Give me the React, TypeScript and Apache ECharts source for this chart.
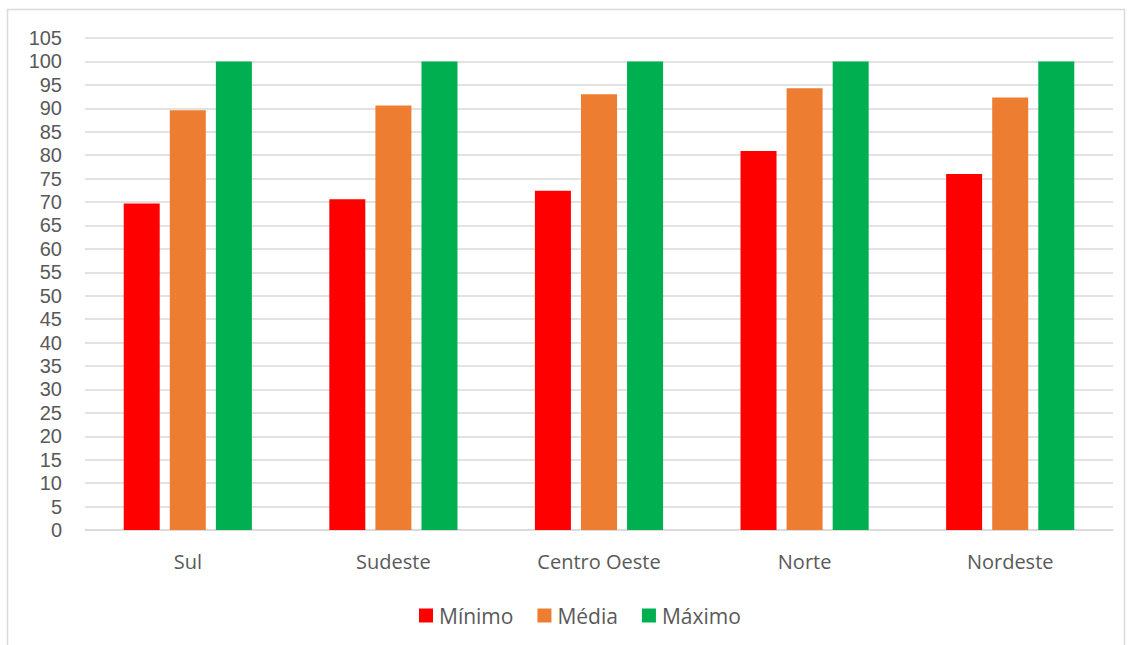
import React, { useEffect, useRef } from "react";
import * as echarts from "echarts";

const categories = ["Sul", "Sudeste", "Centro Oeste", "Norte", "Nordeste"];
const minimo = [69.7, 70.6, 72.4, 80.9, 76.0];
const media = [89.6, 90.6, 93.0, 94.3, 92.3];
const maximo = [100, 100, 100, 100, 100];
const seriesNames = ["Mínimo", "Média", "Máximo"];
const colors = ["#FF0000", "#ED7D31", "#00B050"];

export default function App() {
  const ref = useRef<HTMLDivElement>(null);
  useEffect(() => {
    if (!ref.current) return;
    const chart = echarts.init(ref.current, undefined, { renderer: "svg" });
    const font = "'Open Sans', 'Liberation Sans', sans-serif";
    const numFont = "'Liberation Sans', Arial, sans-serif";
    const data = [minimo, media, maximo];
    chart.setOption({
      animation: false,
      backgroundColor: "#ffffff",
      textStyle: { fontFamily: font },
      graphic: [
        {
          type: "rect",
          shape: { x: 7.5, y: 9.5, width: 1117, height: 645 },
          style: { fill: "none", stroke: "#d9d9d9", lineWidth: 1.5 },
          silent: true,
        },
      ],
      grid: { left: 85, right: 20, top: 38, bottom: 115, containLabel: false },
      legend: {
        bottom: 14,
        left: 414,
        itemWidth: 14,
        itemHeight: 14,
        itemGap: 24,
        icon: "rect",
        data: seriesNames,
        textStyle: { fontSize: 21, color: "#595959", fontFamily: font, padding: [0, 0, 0, 1] },
      },
      xAxis: {
        type: "category",
        data: categories,
        axisLine: { show: true, lineStyle: { color: "#d9d9d9", width: 1.5 } },
        axisTick: { show: false },
        axisLabel: { fontSize: 20, color: "#595959", margin: 21, fontFamily: font },
      },
      yAxis: {
        type: "value",
        min: 0,
        max: 105,
        interval: 5,
        axisLine: { show: false },
        axisTick: { show: false },
        splitLine: { lineStyle: { color: "#d9d9d9", width: 1.5 } },
        axisLabel: { fontSize: 20, lineHeight: 20, color: "#595959", margin: 23, fontFamily: numFont },
      },
      series: seriesNames.map((name, i) => ({
        name,
        type: "bar",
        data: data[i],
        barWidth: 36,
        barGap: "28%",
        itemStyle: { color: colors[i] },
      })),
    });
    return () => chart.dispose();
  }, []);
  return (
    <div
      ref={ref}
      style={{ position: "fixed", left: 0, top: 0, width: 1133, height: 645 }}
    />
  );
}
